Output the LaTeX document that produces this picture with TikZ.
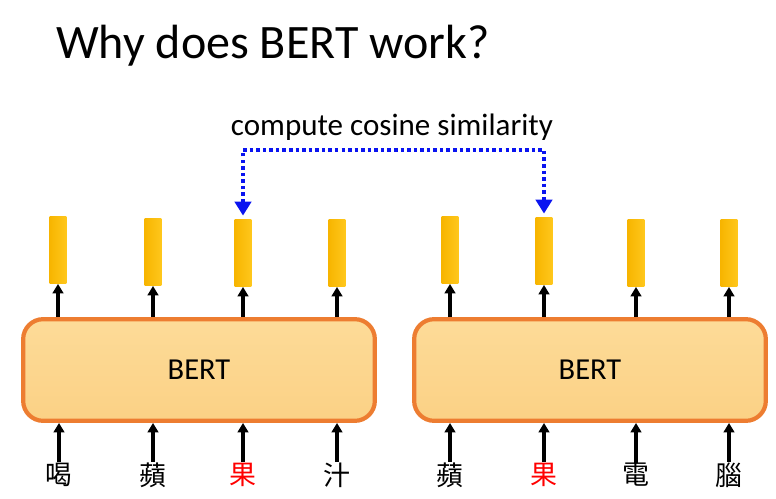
\documentclass[tikz,border=0pt]{standalone}
\usepackage{fontspec}
\setmainfont{Carlito}
\newfontfamily\cjk{Noto Sans CJK TC}
\usepackage{tikz}
\usetikzlibrary{arrows.meta}

\definecolor{bertedge}{HTML}{ED7D31}
\definecolor{berttop}{HTML}{FDDB98}
\definecolor{bertbot}{HTML}{FBD185}
\definecolor{vecleft}{HTML}{F7B500}
\definecolor{vecright}{HTML}{FFC71C}
\definecolor{simblue}{HTML}{0A14F0}

\tikzset{
  bert/.style={draw=bertedge, line width=3.6pt, rounded corners=0.6cm,
    top color=berttop, bottom color=bertbot,
    minimum width=10.55cm, minimum height=3.05cm,
    font=\fontsize{26}{30}\selectfont},
  vec/.style={left color=vecleft, right color=vecright, inner sep=0pt,
    minimum width=0.5cm, minimum height=2.02cm},
  tok/.style={inner sep=0.5pt, font=\cjk\fontsize{23}{26}\selectfont},
  up/.style={-{Triangle[length=8pt,width=9pt]}, line width=2.6pt},
  sim/.style={{Triangle[length=12pt,width=14pt]}-{Triangle[length=12pt,width=14pt]},
    simblue, line width=4pt, dash pattern=on 3pt off 2.6pt,
    shorten <=3pt, shorten >=3pt}
}

\begin{document}
\begin{tikzpicture}[x=0.03cm,y=-0.03cm]
\useasboundingbox (0,0) rectangle (776,498);
% title
\node[anchor=base west, inner sep=0pt, font=\fontsize{41}{49}\selectfont] (title) at (56,58) {Why does BERT work?};
% the two BERT models
\node[bert] (bertL) at (199,370) {BERT};
\node[bert] (bertR) at (590,370) {BERT};
% output vectors
\node[vec] (v1) at (58,250) {};
\node[vec] (v2) at (153,252) {};
\node[vec] (v3) at (243,253) {};
\node[vec] (v4) at (337,253) {};
\node[vec] (v5) at (450,250) {};
\node[vec] (v6) at (544,251) {};
\node[vec] (v7) at (636,253) {};
\node[vec] (v8) at (729,253) {};
% input tokens
\node[tok] (t1) at (59,475) {喝};
\node[tok] (t2) at (153,475) {蘋};
\node[tok, red] (t3) at (243,475) {果};
\node[tok] (t4) at (337,475) {汁};
\node[tok] (t5) at (450,475) {蘋};
\node[tok, red] (t6) at (544,475) {果};
\node[tok] (t7) at (636,475) {電};
\node[tok] (t8) at (729,475) {腦};
% arrows into and out of BERT
\foreach \i in {1,...,4} {
  \draw[up] (t\i.north) -- (t\i.north |- bertL.south);
  \draw[up] (bertL.north -| v\i) -- (v\i.south);
}
\foreach \i in {5,...,8} {
  \draw[up] (t\i.north) -- (t\i.north |- bertR.south);
  \draw[up] (bertR.north -| v\i) -- (v\i.south);
}
% cosine similarity between the two 果
\node[font=\fontsize{26.5}{30}\selectfont] (simtext) at (392,127) {compute cosine similarity};
\coordinate (simtop) at (392,150);
\draw[sim] (v3.north) |- (simtop) -| (v6.north);
\end{tikzpicture}
\end{document}
